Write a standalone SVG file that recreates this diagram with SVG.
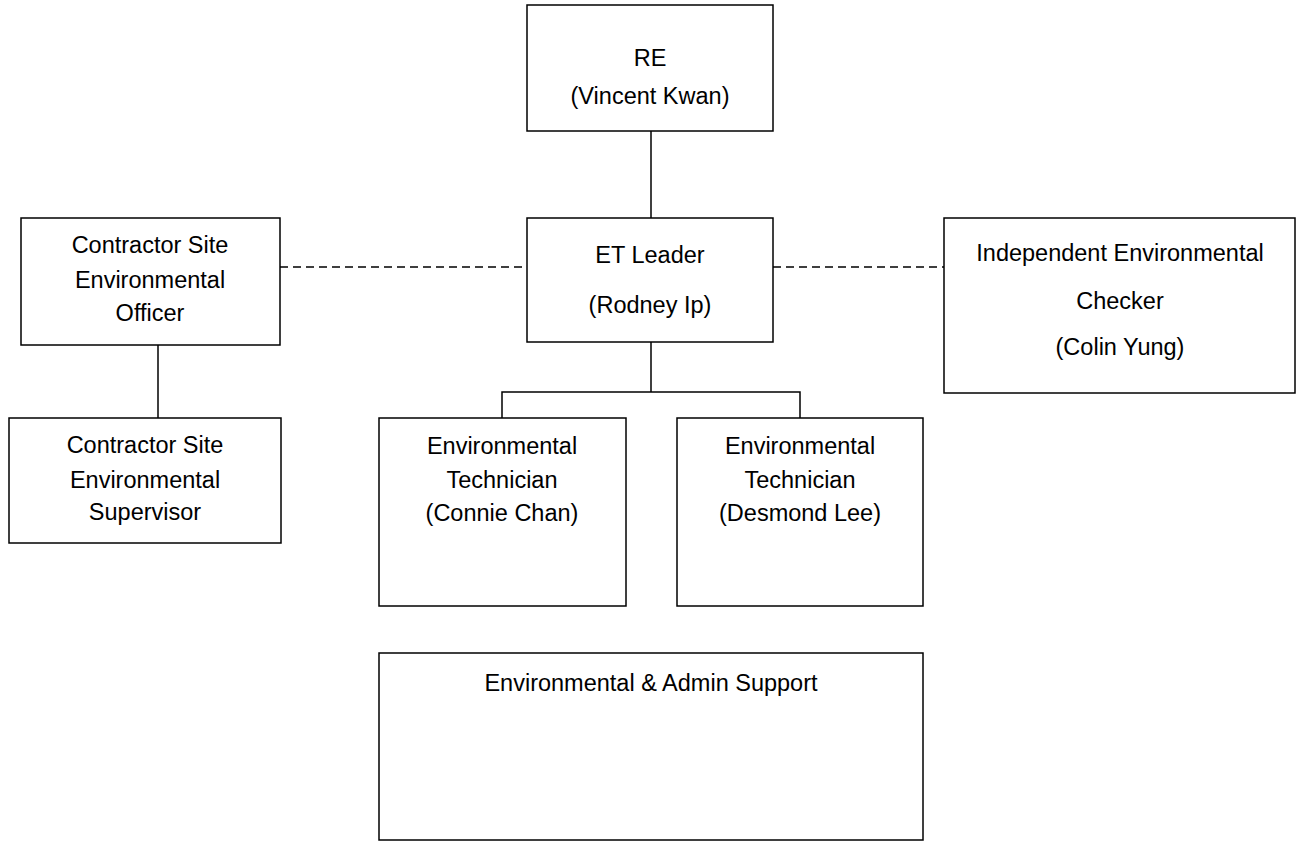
<svg xmlns="http://www.w3.org/2000/svg" width="1297" height="841" viewBox="0 0 1297 841">
<style>
.box{fill:#fff;stroke:#000;stroke-width:1.5}
.t{font-family:"Liberation Sans",Arial,sans-serif;font-size:23.5px;fill:#000;text-anchor:middle}
.ln{stroke:#000;stroke-width:1.5;fill:none}
.dash{stroke:#000;stroke-width:1.5;fill:none;stroke-dasharray:8,5}
</style>
<rect width="1297" height="841" fill="#fff"/>
<g id="connectors">
<line class="ln" x1="651" y1="131" x2="651" y2="218"/>
<polyline class="ln" points="651,342 651,392"/>
<polyline class="ln" points="502,418 502,392 800,392 800,418"/>
<line class="ln" x1="158" y1="345" x2="158" y2="418"/>
<line class="dash" x1="280" y1="267" x2="527" y2="267"/>
<line class="dash" x1="773" y1="267" x2="944" y2="267"/>
</g>
<g id="re">
<rect class="box" x="527" y="5" width="246" height="126"/>
<text class="t" x="650" y="66">RE</text>
<text class="t" x="650" y="104">(Vincent Kwan)</text>
</g>
<g id="et-leader">
<rect class="box" x="527" y="218" width="246" height="124"/>
<text class="t" x="650" y="263">ET Leader</text>
<text class="t" x="650" y="313">(Rodney Ip)</text>
</g>
<g id="cseo">
<rect class="box" x="21" y="218" width="259" height="127"/>
<text class="t" x="150" y="253">Contractor Site</text>
<text class="t" x="150" y="288">Environmental</text>
<text class="t" x="150" y="321">Officer</text>
</g>
<g id="iec">
<rect class="box" x="944" y="218" width="351" height="175" stroke-width="2"/>
<text class="t" x="1120" y="261">Independent Environmental</text>
<text class="t" x="1120" y="309">Checker</text>
<text class="t" x="1120" y="355">(Colin Yung)</text>
</g>
<g id="cses">
<rect class="box" x="9" y="418" width="272" height="125"/>
<text class="t" x="145" y="453">Contractor Site</text>
<text class="t" x="145" y="488">Environmental</text>
<text class="t" x="145" y="520">Supervisor</text>
</g>
<g id="tech1">
<rect class="box" x="379" y="418" width="247" height="188"/>
<text class="t" x="502" y="454">Environmental</text>
<text class="t" x="502" y="488">Technician</text>
<text class="t" x="502" y="521">(Connie Chan)</text>
</g>
<g id="tech2">
<rect class="box" x="677" y="418" width="246" height="188"/>
<text class="t" x="800" y="454">Environmental</text>
<text class="t" x="800" y="488">Technician</text>
<text class="t" x="800" y="521">(Desmond Lee)</text>
</g>
<g id="admin">
<rect class="box" x="379" y="653" width="544" height="187"/>
<text class="t" x="651" y="691">Environmental &amp; Admin Support</text>
</g>
</svg>
